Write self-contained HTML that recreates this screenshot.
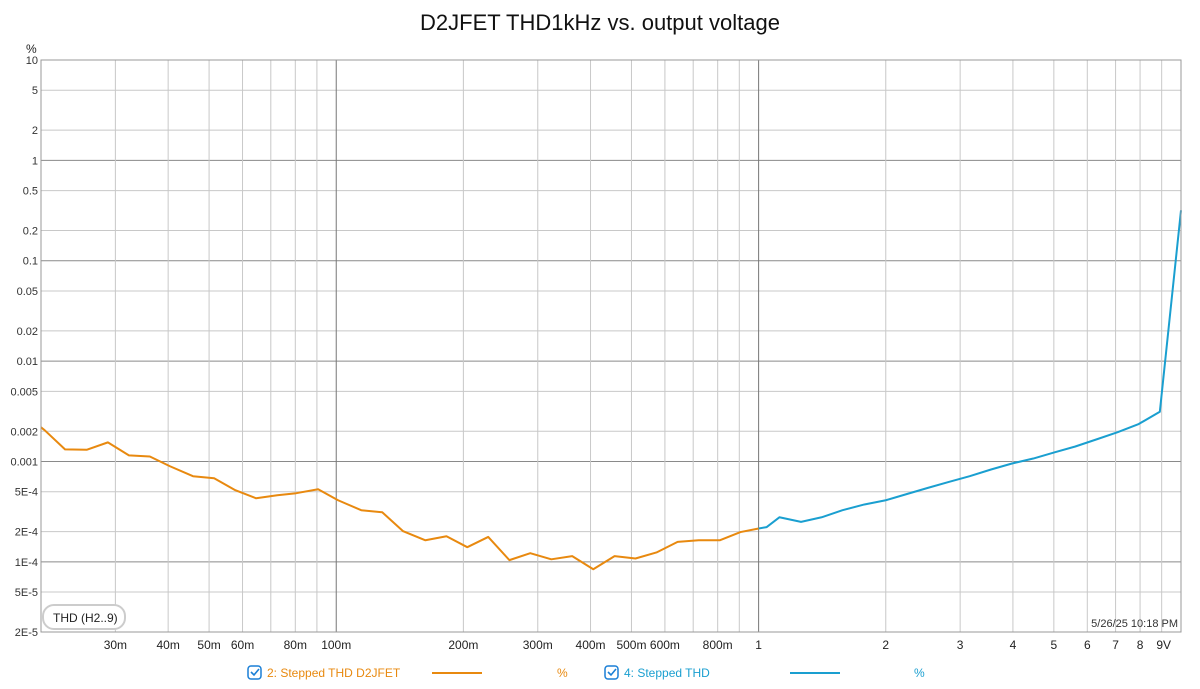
<!DOCTYPE html>
<html><head><meta charset="utf-8"><style>
body{margin:0;background:#fff;font-family:"Liberation Sans",sans-serif}
svg text{font-family:"Liberation Sans",sans-serif}
</style></head><body>
<svg id="c" width="1200" height="684" xmlns="http://www.w3.org/2000/svg">
<text x="600" y="30" text-anchor="middle" font-size="22" fill="#111">D2JFET THD1kHz vs. output voltage</text>
<text x="26" y="53" font-size="12" fill="#222">%</text>
<g id="grid"></g><g id="series"></g>
<rect x="41" y="60" width="1140" height="572" fill="none" stroke="#999"/>
<rect x="43" y="605" width="82" height="24" rx="11" fill="#fff" stroke="#ccc" stroke-width="2"/>
<text x="53" y="622" font-size="12" fill="#222">THD (H2..9)</text>
<text x="1178" y="627" text-anchor="end" font-size="11" fill="#333">5/26/25 10:18 PM</text>
<g>
<rect x="248" y="666" width="13" height="13" rx="3" fill="#fff" stroke="#1a7fd6" stroke-width="1.5"/>
<path d="M251 672 l3 3 l5 -6" fill="none" stroke="#1a7fd6" stroke-width="1.6"/>
<text x="267" y="677" font-size="12" fill="#e8890f">2: Stepped THD D2JFET</text>
<line x1="432" y1="673" x2="482" y2="673" stroke="#e8890f" stroke-width="2"/>
<text x="557" y="677" font-size="12" fill="#e8890f">%</text></g>
<g>
<rect x="605" y="666" width="13" height="13" rx="3" fill="#fff" stroke="#1a7fd6" stroke-width="1.5"/>
<path d="M608 672 l3 3 l5 -6" fill="none" stroke="#1a7fd6" stroke-width="1.6"/>
<text x="624" y="677" font-size="12" fill="#1a9fd0">4: Stepped THD</text>
<line x1="790" y1="673" x2="840" y2="673" stroke="#1a9fd0" stroke-width="2"/>
<text x="914" y="677" font-size="12" fill="#1a9fd0">%</text></g>
</svg>
<script>
const orangeX=[0.0200,0.0204,0.0228,0.0257,0.0288,0.0323,0.0362,0.0404,0.0458,0.0514,0.0577,0.0646,0.0725,0.0804,0.0906,0.101,0.1146,0.1285,0.144,0.1626,0.1824,0.2043,0.229,0.257,0.288,0.323,0.362,0.406,0.456,0.511,0.573,0.643,0.721,0.809,0.906,1.0];
const orangeY=[0.00219,0.00205,0.00132,0.00131,0.00155,0.00115,0.00112,0.000896,0.000713,0.000681,0.000517,0.00043,0.000461,0.000483,0.000529,0.000411,0.000327,0.000312,0.000202,0.000164,0.00018,0.00014,0.000177,0.000104,0.000122,0.000106,0.000114,0.0000844,0.000114,0.000108,0.000124,0.000158,0.000164,0.000164,0.000198,0.000215];
const blueX=[1.0,1.045,1.12,1.26,1.41,1.58,1.78,2.0,2.24,2.51,2.82,3.16,3.55,3.98,4.47,5.01,5.62,6.31,7.08,7.94,8.91,10];
const blueY=[0.000215,0.000222,0.000278,0.00025,0.000278,0.000327,0.000373,0.000411,0.000473,0.000544,0.000625,0.000713,0.000832,0.000955,0.00107,0.00123,0.00141,0.00166,0.00196,0.00236,0.00313,0.318];
const yTicks=[10,5,2,1,0.5,0.2,0.1,0.05,0.02,0.01,0.005,0.002,0.001,5e-4,2e-4,1e-4,5e-5,2e-5];
const yTickLabels=["10","5","2","1","0.5","0.2","0.1","0.05","0.02","0.01","0.005","0.002","0.001","5E-4","2E-4","1E-4","5E-5","2E-5"];
const xGrid=[0.03,0.04,0.05,0.06,0.07,0.08,0.09,0.1,0.2,0.3,0.4,0.5,0.6,0.7,0.8,0.9,1,2,3,4,5,6,7,8,9];
const xTicks=[0.03,0.04,0.05,0.06,0.08,0.1,0.2,0.3,0.4,0.5,0.6,0.8,1,2,3,4,5,6,7,8,9];
const xTickLabels=["30m","40m","50m","60m","80m","100m","200m","300m","400m","500m","600m","800m","1","2","3","4","5","6","7","8","9V"];
const L=41,R=1181,T=60,B=632;
const xmin=Math.log10(0.02),xmax=1,ymin=Math.log10(2e-5),ymax=1;
const X=v=>L+(Math.log10(v)-xmin)/(xmax-xmin)*(R-L);
const Y=v=>B-(Math.log10(v)-ymin)/(ymax-ymin)*(B-T);
const NS="http://www.w3.org/2000/svg";
const g=document.getElementById('grid'),s=document.getElementById('series'),svg=document.getElementById('c');
function mk(tag,at,parent){const e=document.createElementNS(NS,tag);for(const k in at)e.setAttribute(k,at[k]);parent.appendChild(e);return e;}
const isDec=v=>Math.abs(Math.log10(v)-Math.round(Math.log10(v)))<1e-6;
yTicks.forEach((v,i)=>{const y=Y(v);
 const ln=mk('line',{x1:L,x2:R,y1:y,y2:y,stroke:isDec(v)?'#8a8a8a':'#c8c8c8','stroke-width':1},g);
 
 
 const t=mk('text',{x:38,y:y+4,'text-anchor':'end','font-size':11,fill:'#333'},svg);t.textContent=yTickLabels[i];
 
 });
xGrid.forEach(v=>{const x=X(v);
 const ln=mk('line',{x1:x,x2:x,y1:T,y2:B,stroke:isDec(v)?'#777':'#c8c8c8','stroke-width':1},g);
 
 });
xTicks.forEach((v,i)=>{const t=mk('text',{x:X(v)+(i==xTicks.length-1?2:0),y:649,'text-anchor':'middle','font-size':12,fill:'#222'},svg);t.textContent=xTickLabels[i];
 
 });
function line(xs,ys,col,name){const p=mk('polyline',{points:xs.map((v,i)=>X(v)+','+Y(ys[i])).join(' '),fill:'none',stroke:col,'stroke-width':2,'stroke-linejoin':'round'},s);
 
 }
line(blueX,blueY,'#1a9fd0','series-stepped-thd');
line(orangeX,orangeY,'#e8890f','series-stepped-thd-d2jfet');
</script>
</body></html>
